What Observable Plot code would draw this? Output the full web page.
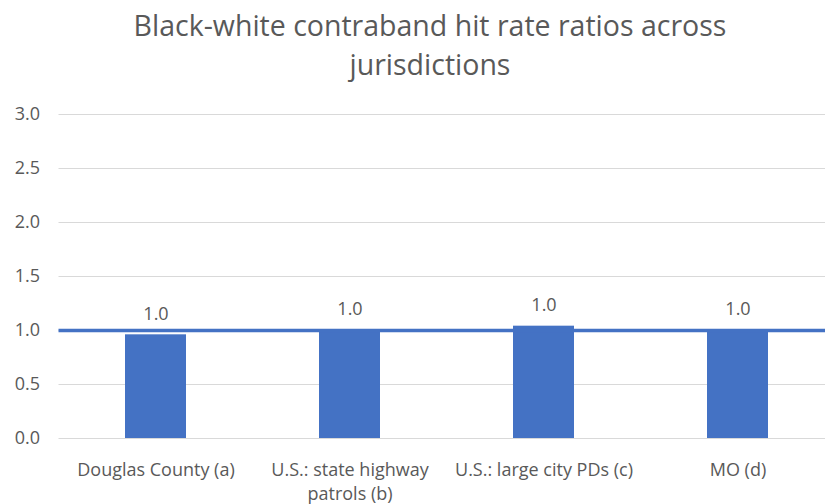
<!DOCTYPE html>
<html>
<head>
<meta charset="utf-8">
<script src="https://cdn.jsdelivr.net/npm/d3@7"></script>
<script src="https://cdn.jsdelivr.net/npm/@observablehq/plot@0.6"></script>
<style>
  html, body { margin: 0; padding: 0; background: #fff; overflow: hidden; }
  #wrap { position: relative; width: 825px; height: 504px; overflow: hidden; }
  #title { position: absolute; left: 0; top: 6px; width: 860px; text-align: center;
           font-family: "Open Sans", sans-serif; font-size: 28.5px; line-height: 39px; color: #595959; }
  #chart { position: absolute; left: 0; top: 90px; }
  #chart svg { max-width: none !important; }
</style>
</head>
<body>
<div id="wrap">
  <div id="title">Black-white contraband hit rate ratios across<br>jurisdictions</div>
  <div id="chart"></div>
</div>
<script>
const categories = ["Douglas County (a)", "U.S.: state highway patrols (b)", "U.S.: large city PDs (c)", "MO (d)"];
const tickLabels = ["Douglas County (a)", "U.S.: state highway\npatrols (b)", "U.S.: large city PDs (c)", "MO (d)"];
const ratios = [0.96, 1.0, 1.04, 1.0];
const yTicks = [0, 0.5, 1.0, 1.5, 2.0, 2.5, 3.0];
const referenceLine = [1.0];

const data = categories.map((c, i) => ({category: c, ratio: ratios[i]}));
const labelOf = new Map(categories.map((c, i) => [c, tickLabels[i]]));
const blue = "#4472C4";
const grey = "#595959";

const chart = Plot.plot({
  width: 835,
  height: 414,
  marginLeft: 58.5,
  marginRight: 0,
  marginTop: 24,
  marginBottom: 66,
  style: {fontFamily: "'Open Sans', sans-serif", fontSize: "18px", color: grey, background: "transparent", maxWidth: "none"},
  x: {domain: categories, paddingInner: 0.686, paddingOuter: 0.343, label: null},
  y: {domain: [0, 3], label: null},
  marks: [
    Plot.ruleY(yTicks, {stroke: "#d9d9d9", strokeWidth: 1}),
    Plot.barY(data, {x: "category", y: "ratio", fill: blue}),
    Plot.ruleY(referenceLine, {stroke: blue, strokeWidth: 3.5}),
    Plot.text(data, {x: "category", y: "ratio", text: d => d3.format(".1f")(d.ratio), dy: -21, fill: grey, fontSize: 18}),
    Plot.axisY({ticks: yTicks, tickFormat: d3.format(".1f"), tickSize: 0, tickPadding: 19, fontSize: 18, fill: grey}),
    Plot.axisX({tickFormat: c => labelOf.get(c), tickSize: 0, tickPadding: 20, fontSize: 18, fill: grey, lineHeight: 1.35})
  ]
});
document.getElementById("chart").appendChild(chart);
</script>
</body>
</html>
